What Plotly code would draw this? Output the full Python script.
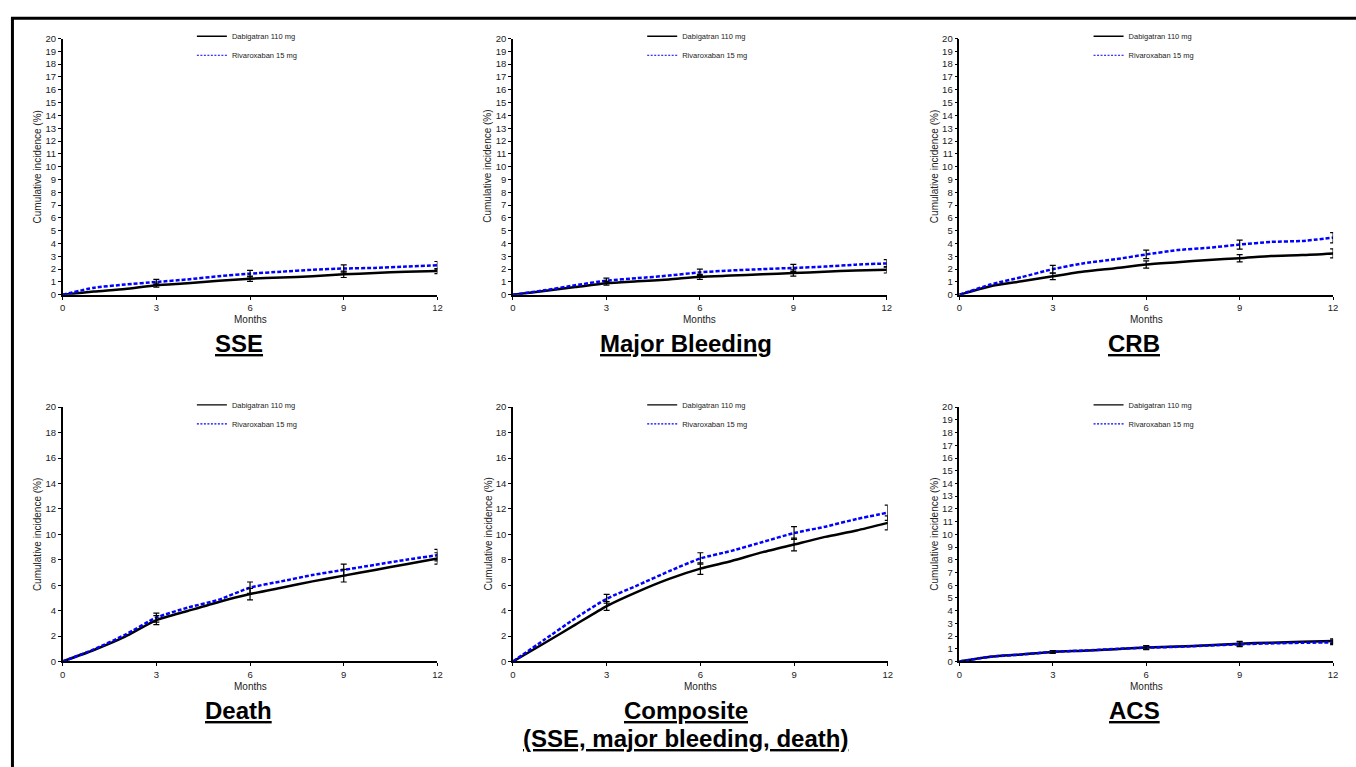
import plotly.graph_objects as go

W, H = 1356, 767

months = [0, 1, 2, 3, 4, 5, 6, 7, 8, 9, 10, 11, 12]
err_months = [3, 6, 9, 12]

panel_titles = ["SSE", "Major Bleeding", "CRB", "Death", "Composite", "ACS"]
composite_sub = "(SSE, major bleeding, death)"

sse_dabi = [0, 0.25, 0.45, 0.75, 0.9, 1.1, 1.25, 1.35, 1.45, 1.6, 1.7, 1.8, 1.85]
sse_riva = [0, 0.55, 0.8, 1.0, 1.2, 1.45, 1.65, 1.8, 1.95, 2.05, 2.1, 2.2, 2.3]
sse_dabi_err = [0.15, 0.2, 0.25, 0.2]
sse_riva_err = [0.2, 0.25, 0.28, 0.3]

mb_dabi = [0, 0.3, 0.6, 0.9, 1.05, 1.2, 1.4, 1.5, 1.6, 1.7, 1.8, 1.9, 1.95]
mb_riva = [0, 0.35, 0.75, 1.1, 1.3, 1.5, 1.75, 1.9, 2.0, 2.1, 2.2, 2.35, 2.45]
mb_dabi_err = [0.15, 0.2, 0.25, 0.25]
mb_riva_err = [0.2, 0.25, 0.28, 0.3]

crb_dabi = [0, 0.67, 1.05, 1.44, 1.82, 2.08, 2.36, 2.54, 2.72, 2.85, 3.03, 3.1, 3.23]
crb_riva = [0, 0.8, 1.38, 2.0, 2.46, 2.77, 3.15, 3.49, 3.67, 3.92, 4.13, 4.2, 4.46]
crb_dabi_err = [0.25, 0.28, 0.28, 0.35]
crb_riva_err = [0.3, 0.33, 0.35, 0.4]

death_dabi = [0, 0.9, 1.95, 3.25, 3.97, 4.68, 5.3, 5.8, 6.3, 6.75, 7.2, 7.65, 8.1]
death_riva = [0, 0.95, 2.1, 3.45, 4.23, 4.86, 5.8, 6.3, 6.8, 7.2, 7.6, 8.0, 8.36]
death_dabi_err = [0.35, 0.45, 0.5, 0.45]
death_riva_err = [0.35, 0.45, 0.45, 0.45]

comp_dabi = [0, 1.43, 2.9, 4.36, 5.5, 6.5, 7.3, 7.9, 8.6, 9.2, 9.8, 10.3, 10.9]
comp_riva = [0, 1.7, 3.4, 4.93, 6.0, 7.1, 8.1, 8.7, 9.4, 10.1, 10.6, 11.2, 11.7]
comp_dabi_err = [0.35, 0.45, 0.5, 0.55]
comp_riva_err = [0.35, 0.45, 0.5, 0.6]

acs_dabi = [0, 0.37, 0.55, 0.75, 0.85, 0.97, 1.1, 1.17, 1.27, 1.4, 1.48, 1.55, 1.6]
acs_riva = [0, 0.37, 0.55, 0.75, 0.86, 0.98, 1.08, 1.15, 1.25, 1.35, 1.42, 1.47, 1.5]
acs_dabi_err = [0.1, 0.15, 0.18, 0.18]
acs_riva_err = [0.1, 0.15, 0.18, 0.18]

series_names = ["Dabigatran 110 mg", "Rivaroxaban 15 mg"]
x_ticks = [0, 3, 6, 9, 12]
y_dtick = [1, 1, 1, 2, 2, 1]

panels = [
    (sse_dabi, sse_riva, sse_dabi_err, sse_riva_err),
    (mb_dabi, mb_riva, mb_dabi_err, mb_riva_err),
    (crb_dabi, crb_riva, crb_dabi_err, crb_riva_err),
    (death_dabi, death_riva, death_dabi_err, death_riva_err),
    (comp_dabi, comp_riva, comp_dabi_err, comp_riva_err),
    (acs_dabi, acs_riva, acs_dabi_err, acs_riva_err),
]

# layout geometry in pixels
x_px = [(60, 437), (513, 889), (962, 1338), (60, 437), (513, 890), (962, 1338)]
y_px = [(293, 33), (293, 33), (293, 33), (665, 407), (665, 407), (665, 407)]
title_x = [237, 687, 1138, 237, 687, 1138]
title_y = [342, 342, 342, 715, 715, 715]

FONT = "Liberation Sans, Arial, sans-serif"
BLUE = "#0000ff"
fig = go.Figure()


def px2x(p):
    return p / W


def px2y(p):
    return 1 - p / H


layout = dict(
    width=W, height=H, margin=dict(l=0, r=0, t=0, b=0),
    paper_bgcolor="white", plot_bgcolor="white",
    font=dict(family=FONT, color="#222"),
    annotations=[], shapes=[],
)

for i, (dabi, riva, dabi_err, riva_err) in enumerate(panels):
    n = i + 1
    xa = "x" if n == 1 else f"x{n}"
    ya = "y" if n == 1 else f"y{n}"
    leg = "legend" if n == 1 else f"legend{n}"
    dab_at = [dabi[months.index(m)] for m in err_months]
    riv_at = [riva[months.index(m)] for m in err_months]

    fig.add_trace(go.Scatter(
        x=months, y=dabi, mode="lines", name=series_names[0],
        line=dict(color="black", width=2.5, shape="spline", smoothing=0.6),
        xaxis=xa, yaxis=ya, showlegend=False))
    fig.add_trace(go.Scatter(
        x=months, y=riva, mode="lines", name=series_names[1],
        line=dict(color=BLUE, width=2.5, dash="4px,2px", shape="spline", smoothing=0.6),
        xaxis=xa, yaxis=ya, showlegend=False))
    for vals, errs in ((riv_at, riva_err), (dab_at, dabi_err)):
        fig.add_trace(go.Scatter(
            x=err_months, y=vals, mode="markers",
            marker=dict(size=1, color="rgba(0,0,0,0)"),
            error_y=dict(type="data", array=errs, visible=True,
                         color="black", thickness=1.2, width=3),
            xaxis=xa, yaxis=ya, showlegend=False, hoverinfo="skip"))
    # legend entries (thin key lines as in the original)
    fig.add_trace(go.Scatter(
        x=[None], y=[None], mode="lines", name=series_names[0],
        line=dict(color="black", width=1.3), xaxis=xa, yaxis=ya,
        legend=leg, showlegend=True))
    fig.add_trace(go.Scatter(
        x=[None], y=[None], mode="lines", name=series_names[1],
        line=dict(color=BLUE, width=1.3 if n > 3 else 1.0, dash="2px,1.5px"),
        xaxis=xa, yaxis=ya, legend=leg, showlegend=True))

    x0, x1 = x_px[i]
    yb, yt = y_px[i]
    axis_common = dict(
        showgrid=False, zeroline=False, showline=True, linecolor="black",
        ticks="outside", ticklen=3, tickcolor="black", tickwidth=1,
        tickfont=dict(family=FONT, size=9.5, color="#222"),
    )
    layout["xaxis" if n == 1 else f"xaxis{n}"] = dict(
        domain=[px2x(x0), px2x(x1)], range=[0, 12], anchor=ya,
        tickvals=x_ticks, linewidth=2, **axis_common)
    layout["yaxis" if n == 1 else f"yaxis{n}"] = dict(
        domain=[px2y(yb), px2y(yt)], range=[0, 20], anchor=xa,
        dtick=y_dtick[i], tick0=0, linewidth=1.5, **axis_common)

    layout[leg] = dict(
        x=px2x(x0 + 130), y=px2y(yt - 17), xanchor="left", yanchor="top",
        bgcolor="rgba(0,0,0,0)", font=dict(family=FONT, size=7.5, color="#222"),
        itemwidth=30, tracegroupgap=0, borderwidth=0)

    # axis titles
    layout["annotations"].append(dict(
        text="Months", x=px2x((x0 + x1) / 2), y=px2y(yb + 25), xref="paper", yref="paper",
        showarrow=False, font=dict(family=FONT, size=10, color="#222"),
        xanchor="center", yanchor="middle"))
    layout["annotations"].append(dict(
        text="Cumulative incidence (%)", x=px2x(x0 - 25), y=px2y((yb + yt) / 2),
        xref="paper", yref="paper", textangle=-90, showarrow=False,
        font=dict(family=FONT, size=10, color="#222"),
        xanchor="center", yanchor="middle"))
    # panel title
    layout["annotations"].append(dict(
        text=f"<b><u>{panel_titles[i]}</u></b>", x=px2x(title_x[i]), y=px2y(title_y[i]),
        xref="paper", yref="paper", showarrow=False,
        font=dict(family=FONT, size=24, color="black"),
        xanchor="center", yanchor="middle"))

layout["annotations"].append(dict(
    text=f"<b><u>{composite_sub}</u></b>", x=px2x(687), y=px2y(743),
    xref="paper", yref="paper", showarrow=False,
    font=dict(family=FONT, size=24, color="black"),
    xanchor="center", yanchor="middle"))

layout["shapes"].append(dict(
    type="rect", xref="paper", yref="paper",
    x0=px2x(9.5), x1=1.02, y0=-0.02, y1=px2y(12.5),
    line=dict(color="black", width=3), fillcolor="rgba(0,0,0,0)"))

fig.update_layout(**layout)
fig.write_html("out.html")
